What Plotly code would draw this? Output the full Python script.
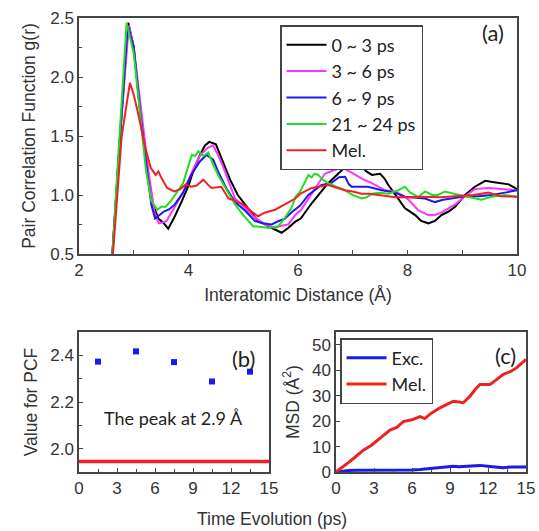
import plotly.graph_objects as go

# ---------------- Panel (a): pair correlation functions ----------------
r_0_3 = [2.55, 2.61, 2.75, 2.90, 3.0, 3.13, 3.24, 3.35, 3.45, 3.55, 3.63, 3.75, 3.88, 4.0, 4.1, 4.2, 4.3, 4.38,
         4.5, 4.6, 4.76, 4.9, 5.06, 5.25, 5.46, 5.6, 5.70, 5.82, 5.95, 6.05, 6.25, 6.55, 6.80, 6.98, 7.05, 7.16,
         7.25, 7.35, 7.50, 7.58, 7.65, 7.83, 7.95, 8.14, 8.25, 8.38, 8.5, 8.62, 8.75, 8.87, 9.05, 9.23, 9.42,
         9.55, 9.72, 9.85, 10.0]
g_0_3 = [0.25, 0.5, 1.5, 2.46, 2.25, 1.65, 1.23, 0.92, 0.80, 0.76, 0.715, 0.82, 0.95, 1.08, 1.22, 1.33, 1.42, 1.45,
         1.43, 1.32, 1.13, 1.0, 0.90, 0.79, 0.735, 0.70, 0.68, 0.72, 0.774, 0.80, 0.93, 1.10, 1.21, 1.28, 1.27, 1.24,
         1.20, 1.17, 1.18, 1.14, 1.085, 0.97, 0.89, 0.83, 0.78, 0.76, 0.78, 0.83, 0.86, 0.90, 1.0, 1.07, 1.12,
         1.11, 1.10, 1.09, 1.05]

r_3_6 = [2.55, 2.61, 2.75, 2.91, 3.0, 3.15, 3.27, 3.38, 3.46, 3.55, 3.6, 3.75, 3.9, 4.05, 4.2, 4.35, 4.45, 4.55,
         4.65, 4.85, 5.05, 5.21, 5.4, 5.58, 5.70, 5.82, 5.95, 6.05, 6.25, 6.49, 6.65, 6.80, 6.9, 7.04, 7.2, 7.35,
         7.59, 7.77, 7.9, 8.02, 8.20, 8.38, 8.5, 8.62, 8.87, 9.05, 9.23, 9.48, 9.72, 10.0]
g_3_6 = [0.25, 0.5, 1.5, 2.44, 2.25, 1.65, 1.2, 0.85, 0.76, 0.77, 0.78, 0.90, 1.02, 1.18, 1.33, 1.40, 1.42, 1.33,
         1.22, 0.97, 0.88, 0.81, 0.75, 0.72, 0.74, 0.75, 0.83, 0.87, 1.01, 1.18, 1.21, 1.23, 1.21, 1.17, 1.13, 1.10,
         1.04, 1.03, 1.0, 0.96, 0.87, 0.83, 0.83, 0.85, 0.92, 0.99, 1.05, 1.06, 1.05, 1.04]

r_6_9 = [2.55, 2.61, 2.75, 2.89, 3.0, 3.13, 3.24, 3.32, 3.39, 3.47, 3.55, 3.65, 3.75, 3.9, 4.05, 4.2, 4.33, 4.45,
         4.54, 4.7, 4.85, 5.05, 5.21, 5.35, 5.52, 5.65, 5.76, 5.9, 6.04, 6.19, 6.43, 6.6, 6.75, 6.86, 6.93, 6.98,
         7.28, 7.53, 7.77, 7.95, 8.1, 8.32, 8.50, 8.65, 8.80, 9.05, 9.3, 9.54, 9.78, 10.0]
g_6_9 = [0.25, 0.5, 1.5, 2.44, 2.25, 1.65, 1.22, 0.92, 0.80, 0.83, 0.86, 0.88, 0.92, 1.02, 1.17, 1.28, 1.34, 1.30,
         1.20, 1.05, 0.94, 0.86, 0.78, 0.76, 0.75, 0.78, 0.80, 0.86, 0.91, 1.0, 1.085, 1.10, 1.15, 1.155, 1.09, 1.07,
         1.07, 1.04, 1.02, 0.985, 0.98, 0.97, 0.94, 0.96, 0.97, 0.99, 0.99, 1.0, 1.02, 1.04]

r_21_24 = [2.55, 2.61, 2.74, 2.87, 3.0, 3.12, 3.22, 3.32, 3.43, 3.5, 3.58, 3.68, 3.8, 3.9, 4.0, 4.06, 4.12, 4.18,
           4.27, 4.36, 4.45, 4.54, 4.7, 4.85, 5.0, 5.18, 5.3, 5.46, 5.64, 5.75, 5.88, 5.95, 6.04, 6.1, 6.19, 6.25,
           6.3, 6.37, 6.45, 6.55, 6.7, 6.86, 7.0, 7.16, 7.25, 7.35, 7.5, 7.65, 7.83, 7.95, 8.05, 8.20, 8.32, 8.45,
           8.56, 8.68, 8.85, 9.05, 9.2, 9.35, 9.54, 9.78, 10.0]
g_21_24 = [0.25, 0.5, 1.5, 2.46, 2.2, 1.65, 1.22, 0.95, 0.875, 0.90, 0.90, 0.95, 1.03, 1.10, 1.25, 1.34, 1.33, 1.37,
           1.33, 1.36, 1.26, 1.17, 1.04, 0.92, 0.83, 0.735, 0.73, 0.72, 0.735, 0.80, 0.89, 0.98, 1.03, 1.085, 1.17, 1.15,
           1.18, 1.17, 1.13, 1.10, 1.07, 1.04, 1.0, 0.97, 0.98, 1.01, 1.02, 1.01, 1.04, 1.07, 1.02, 0.985, 1.03, 1.0,
           1.0, 1.03, 1.01, 0.99, 0.98, 0.96, 0.985, 1.0, 0.985]

r_mel = [2.55, 2.62, 2.78, 2.93, 3.0, 3.10, 3.2, 3.31, 3.40, 3.45, 3.50, 3.61, 3.74, 3.85, 3.95, 4.05, 4.15, 4.27,
         4.35, 4.42, 4.6, 4.73, 4.85, 5.0, 5.15, 5.27, 5.39, 5.58, 5.76, 5.95, 6.04, 6.25, 6.55, 6.7, 6.86, 7.0,
         7.16, 7.3, 7.47, 7.6, 7.77, 8.02, 8.3, 8.6, 8.9, 9.2, 9.48, 9.7, 10.0]
g_mel = [0.25, 0.5, 1.5, 1.95, 1.85, 1.65, 1.42, 1.23, 1.17, 1.20, 1.15, 1.06, 1.03, 1.05, 1.09, 1.07, 1.08, 1.13,
         1.09, 1.06, 1.07, 0.97, 0.95, 0.92, 0.86, 0.82, 0.85, 0.875, 0.92, 0.97, 1.01, 1.06, 1.085, 1.06, 1.04, 1.03,
         1.01, 1.01, 1.0, 0.99, 0.98, 0.98, 0.985, 0.98, 0.99, 1.0, 1.02, 0.99, 0.985]

pcf_names = ["0 ~ 3 ps", "3 ~ 6 ps", "6 ~ 9 ps", "21 ~ 24 ps", "Mel."]
pcf_colors = ["#000000", "#ff33ff", "#1a1aee", "#22dd22", "#ee2222"]

# ---------------- Panel (b): peak value at 2.9 A ----------------
peak_time = [1.5, 4.5, 7.5, 10.5, 13.5]
peak_value = [2.373, 2.417, 2.371, 2.288, 2.330]
mel_peak_time = [0, 15]
mel_peak_value = [1.945, 1.945]

# ---------------- Panel (c): MSD ----------------
msd_time = [0, 0.5, 1, 1.5, 2.16, 2.8, 3.47, 4.26, 4.8, 5.31, 6.0, 6.63, 7.0, 7.5, 8.21, 8.8, 9.26, 9.7, 10.05,
            10.58, 11.0, 11.37, 12.16, 12.6, 13.21, 13.8, 14.27, 14.6, 15]
msd_mel = [0, 1.8, 3.8, 5.8, 8.6, 10.5, 13.2, 16.5, 17.5, 19.8, 20.5, 21.8, 21.0, 23.0, 25.2, 26.5, 27.8, 27.5, 27.2,
           29.8, 32.5, 34.4, 34.4, 36.0, 38.4, 39.5, 41.0, 42.5, 44.3]
msd_exc = [0, 0.4, 0.6, 0.7, 0.7, 0.6, 0.7, 0.8, 0.7, 0.7, 0.8, 1.0, 1.2, 1.5, 2.0, 2.2, 2.3, 2.1, 2.2,
           2.3, 2.4, 2.6, 2.2, 2.0, 1.7, 2.0, 2.1, 2.0, 2.0]

W, H = 539, 531
def px(x):
    return x / W
def py(y):
    return 1 - y / H

fig = go.Figure()

pcf_r = [r_0_3, r_3_6, r_6_9, r_21_24, r_mel]
pcf_g = [g_0_3, g_3_6, g_6_9, g_21_24, g_mel]
for name, col, rr, gg in zip(pcf_names, pcf_colors, pcf_r, pcf_g):
    fig.add_trace(go.Scatter(x=rr, y=gg, mode="lines", name=name, line=dict(color=col, width=2),
                             xaxis="x", yaxis="y", legend="legend"))

fig.add_trace(go.Scatter(x=mel_peak_time, y=mel_peak_value, mode="lines", line=dict(color="#ee2222", width=3.5),
                         xaxis="x2", yaxis="y2", showlegend=False))
fig.add_trace(go.Scatter(x=peak_time, y=peak_value, mode="markers",
                         marker=dict(symbol="square", size=6, color="#1a1aee"),
                         xaxis="x2", yaxis="y2", showlegend=False))

fig.add_trace(go.Scatter(x=msd_time, y=msd_exc, mode="lines", name="Exc.", line=dict(color="#1a1aee", width=3),
                         xaxis="x3", yaxis="y3", legend="legend2"))
fig.add_trace(go.Scatter(x=msd_time, y=msd_mel, mode="lines", name="Mel.", line=dict(color="#ee2222", width=3),
                         xaxis="x3", yaxis="y3", legend="legend2"))

tickfont = dict(family="Liberation Sans, Arial, sans-serif", size=17, color="#333333")
titlefont = dict(family="Liberation Sans, Arial, sans-serif", size=17.5, color="#333333")
axcommon = dict(showline=True, linecolor="#444444", linewidth=1.5, mirror=True, showgrid=False, zeroline=False,
                ticks="inside", ticklen=4, tickcolor="#444444", tickfont=tickfont, automargin=False)

def label(text, x, y, size, family="Lato, sans-serif", color="#222222"):
    return dict(text=text, x=px(x), y=py(y), xref="paper", yref="paper", showarrow=False,
                xanchor="center", yanchor="middle", font=dict(family=family, size=size, color=color))

fig.update_layout(
    width=W, height=H, autosize=False,
    margin=dict(l=0, r=0, t=0, b=0),
    paper_bgcolor="white", plot_bgcolor="white",
    xaxis=dict(domain=[px(79), px(517)], range=[2, 10], dtick=2, anchor="y",
               minor=dict(dtick=1, ticks="inside", ticklen=4, tickcolor="#444444"),
               title=dict(text="Interatomic Distance (Å)", font=titlefont, standoff=10), **axcommon),
    yaxis=dict(domain=[py(254), py(18)], range=[0.5, 2.5], dtick=0.5, tickformat=".1f", anchor="x",
               minor=dict(dtick=0.25, ticks="inside", ticklen=3, tickcolor="#444444"),
               title=dict(text="Pair Correlation Function g(r)", font=titlefont, standoff=10), **axcommon),
    xaxis2=dict(domain=[px(79), px(269)], range=[0, 15], dtick=3, anchor="y2",
                minor=dict(dtick=1.5, ticks="inside", ticklen=3, tickcolor="#444444"), **axcommon),
    yaxis2=dict(domain=[py(472), py(332)], range=[1.9, 2.5], tickvals=[2.0, 2.2, 2.4], tickformat=".1f", anchor="x2",
                minor=dict(dtick=0.1, ticks="inside", ticklen=3, tickcolor="#444444"),
                title=dict(text="Value for PCF", font=titlefont, standoff=8), **axcommon),
    xaxis3=dict(domain=[px(336), px(526)], range=[0, 15], dtick=3, anchor="y3",
                minor=dict(dtick=1.5, ticks="inside", ticklen=3, tickcolor="#444444"), **axcommon),
    yaxis3=dict(domain=[py(472), py(332)], range=[0, 55], dtick=10, anchor="x3",
                title=dict(text="MSD (Å<sup>2</sup>)", font=titlefont, standoff=8), **axcommon),
    legend=dict(x=px(280), y=py(25), xanchor="left", yanchor="top", bgcolor="white",
                bordercolor="#444444", borderwidth=1.5, tracegroupgap=0,
                font=dict(family="Lato, sans-serif", size=18, color="#222222"), itemwidth=40),
    legend2=dict(x=px(340), y=py(338), xanchor="left", yanchor="top", bgcolor="white",
                 bordercolor="#444444", borderwidth=1.5,
                 font=dict(family="Lato, sans-serif", size=18, color="#222222"), itemwidth=40),
    annotations=[
        label("(a)", 493, 33, 22),
        label("(b)", 243, 358, 22),
        label("(c)", 505, 355, 22),
        label("The peak at 2.9 Å", 173, 418, 18),
        label("Time Evolution (ps)", 272, 519, 17.5, family="Liberation Sans, Arial, sans-serif", color="#333333"),
    ],
)

fig.write_html("out.html", config={"displayModeBar": False},
               post_script="document.body.style.margin='0';")
